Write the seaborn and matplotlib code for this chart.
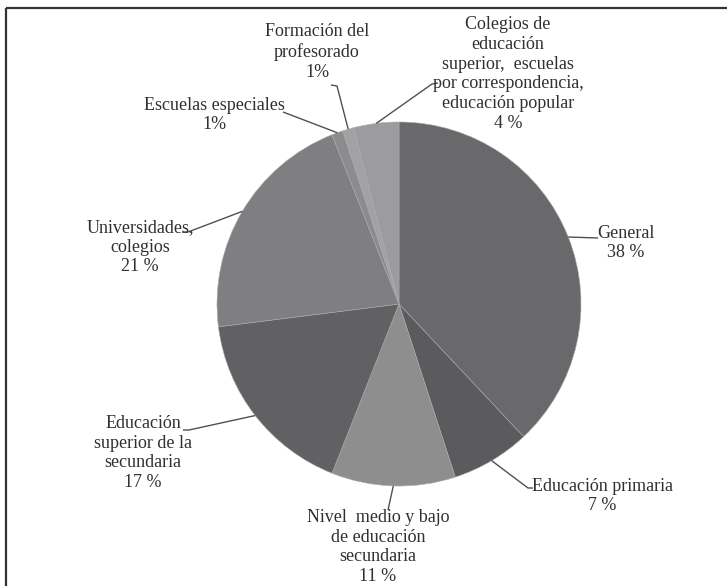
import matplotlib
matplotlib.use("Agg")
import matplotlib.pyplot as plt
import seaborn as sns
import numpy as np

# ---- data ----
categories = [
    "General",
    "Educación primaria",
    "Nivel  medio y bajo\nde educación\nsecundaria",
    "Educación\nsuperior de la\nsecundaria",
    "Universidades,\ncolegios",
    "Escuelas especiales",
    "Formación del\nprofesorado",
    "Colegios de\neducación\nsuperior,  escuelas\npor correspondencia,\neducación popular",
]
values = [38, 7, 11, 17, 21, 1, 1, 4]
pct_labels = ["38 %", "7 %", "11 %", "17 %", "21 %", "1%", "1%", "4 %"]
colors = ["#69696b", "#5b5b5d", "#8e8e8f", "#616163", "#7f7f81",
          "#8c8c8e", "#a2a2a4", "#9c9c9e"]

# ---- layout (pixel coordinates, y measured from top) ----
W, H = 727, 586
center_px = (399, 304)
radius_px = 182
text_pos = [(626, 243), (602, 496), (378, 547), (143, 453),
            (140, 247), (214, 115), (317, 52), (508, 74)]
leader_start = [
    [(598, 238)],
    [(533, 488), (528, 488)],
    [(388, 510)],
    [(183, 430), (189, 430)],
    [(182, 232), (188, 232)],
    [(283, 112)],
    [(331, 85), (337, 86)],
    [(438, 83), (432, 84)],
]

sns.set_theme(style="white")
plt.rcParams["font.family"] = ["Liberation Serif", "DejaVu Serif"]

fig = plt.figure(figsize=(W / 100, H / 100), dpi=100)
ax = fig.add_axes([0, 0, 1, 1])
ax.set_xlim(0, W)
ax.set_ylim(0, H)
ax.set_aspect("equal")
ax.axis("off")

cx, cy = center_px[0], H - center_px[1]
wedges, _ = ax.pie(values, colors=colors, startangle=90, counterclock=False,
                   center=(cx, cy), radius=radius_px,
                   wedgeprops=dict(edgecolor="#a9a9ab", linewidth=0.4))
ax.set_xlim(0, W)
ax.set_ylim(0, H)

line_col = "#505050"
txt_col = "#303030"
for w, cat, pct, tp, ls in zip(wedges, categories, pct_labels, text_pos, leader_start):
    ang = np.deg2rad((w.theta1 + w.theta2) / 2)
    ex = cx + radius_px * np.cos(ang)
    ey = cy + radius_px * np.sin(ang)
    xs = [p[0] for p in ls] + [ex]
    ys = [H - p[1] for p in ls] + [ey]
    ax.plot(xs, ys, color=line_col, lw=1.0, solid_capstyle="butt")
    ax.text(tp[0], H - tp[1], cat + "\n" + pct, ha="center", va="center",
            fontsize=13, color=txt_col, linespacing=1.22, multialignment="center")

# frame (top and left edges visible)
ax.plot([5.5, W], [H - 7.5, H - 7.5], color="#333333", lw=1.6, solid_capstyle="butt")
ax.plot([5.5, 5.5], [0, H - 7.5], color="#333333", lw=1.6, solid_capstyle="butt")

fig.savefig("out.png", dpi=100, facecolor="white")
